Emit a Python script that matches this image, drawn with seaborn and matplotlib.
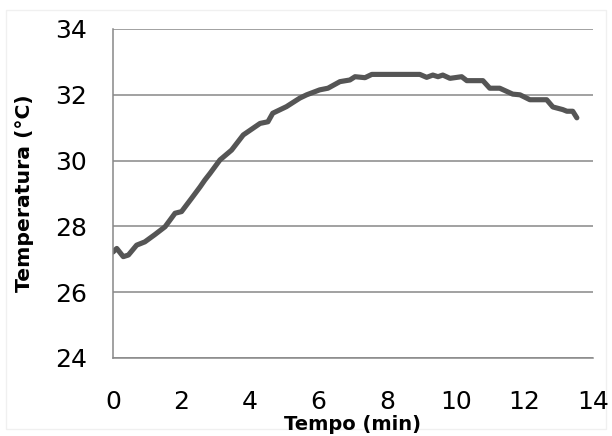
import numpy as np
import pandas as pd
import seaborn as sns
import matplotlib.pyplot as plt
from matplotlib.patches import Rectangle

# time (min) and temperature (C)
tempo = [0.0, 0.11, 0.3, 0.45, 0.69, 0.93, 1.22, 1.52, 1.81, 2.0, 2.29, 2.54, 2.68,
         2.83, 3.12, 3.46, 3.8, 4.29, 4.52, 4.66, 5.06, 5.45, 5.65, 6.03, 6.27,
         6.62, 6.91, 7.06, 7.35, 7.55, 8.95, 9.15, 9.33, 9.48, 9.62, 9.83, 10.17,
         10.32, 10.79, 10.99, 11.28, 11.66, 11.87, 12.16, 12.65, 12.83, 13.12,
         13.24, 13.41, 13.53]
temperatura = [27.22, 27.33, 27.08, 27.13, 27.43, 27.53, 27.75, 27.99, 28.4, 28.45,
               28.85, 29.2, 29.41, 29.61, 30.02, 30.32, 30.78, 31.13, 31.18, 31.44,
               31.64, 31.9, 32.0, 32.15, 32.2, 32.4, 32.45, 32.55, 32.52, 32.62,
               32.62, 32.53, 32.6, 32.55, 32.6, 32.5, 32.55, 32.43, 32.43, 32.2,
               32.2, 32.02, 32.0, 31.85, 31.85, 31.63, 31.55, 31.5, 31.5, 31.3]
xticks = [0, 2, 4, 6, 8, 10, 12, 14]
yticks = [24, 26, 28, 30, 32, 34]

df = pd.DataFrame({"tempo": tempo, "temperatura": temperatura})

sns.set_style("white")
plt.rcParams['font.family'] = ['DejaVu Sans']
plt.rcParams['text.color'] = 'black'
plt.rcParams['axes.labelcolor'] = 'black'
plt.rcParams['xtick.labelcolor'] = 'black'
plt.rcParams['ytick.labelcolor'] = 'black'

fig = plt.figure(figsize=(6.12, 4.36), dpi=100)
ax = fig.add_axes([0.1846, 0.1789, 0.7843, 0.7546])

sns.lineplot(data=df, x="tempo", y="temperatura", color="#555555", linewidth=3.7, ax=ax)

ax.set_xlim(0, 14)
ax.set_ylim(24, 34)
ax.set_xticks(xticks)
ax.set_yticks(yticks)
ax.yaxis.grid(True, color="#888888", linewidth=1.1)
ax.set_axisbelow(True)

for s in ["top", "right"]:
    ax.spines[s].set_visible(False)
for s in ["left", "bottom"]:
    ax.spines[s].set_color("#888888")
    ax.spines[s].set_linewidth(1.1)

ax.tick_params(axis="y", direction="out", length=6.5, width=1.1, color="#888888",
               labelsize=18, pad=12)
ax.tick_params(axis="x", direction="out", length=6, width=1.1, color="#888888",
               labelsize=18, pad=17)

ax.set_xlabel("Tempo (min)", fontsize=14, fontweight="bold", labelpad=0.5)
ax.set_ylabel("Temperatura (°C)", fontsize=14.7, fontweight="bold", labelpad=15)

fig.patches.append(Rectangle((0.01, 0.016), 0.98, 0.962, transform=fig.transFigure,
                             fill=False, edgecolor="#f0f0f0", linewidth=1, zorder=-1))

fig.savefig("out.png", dpi=100)
